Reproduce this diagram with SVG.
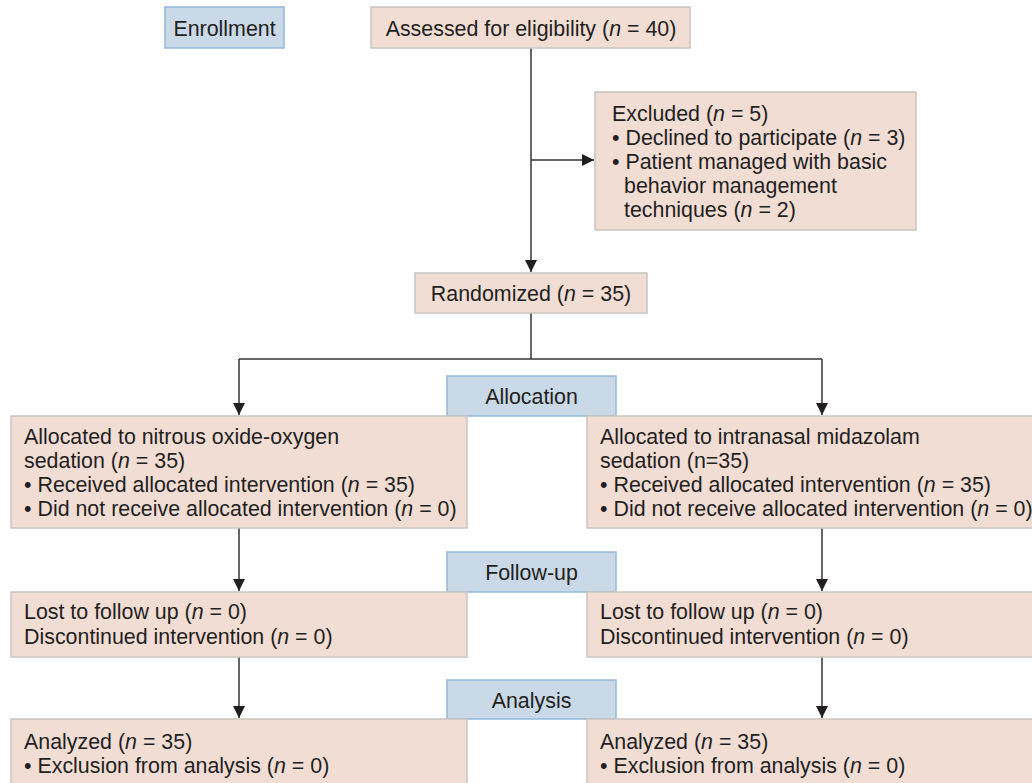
<svg xmlns="http://www.w3.org/2000/svg" width="1032" height="783" viewBox="0 0 1032 783">
<style>
.stage{fill:#c9d9e8;stroke:#93b8da;stroke-width:1.5}
.box{fill:#f2ddd5;stroke:#c9c4c1;stroke-width:1.5}
text{font-family:"Liberation Sans",Arial,sans-serif;font-size:21.4px;fill:#231f20}
.c{text-anchor:middle}
.conn{stroke:#333;stroke-width:1.5;fill:none}
</style>
<defs>
<marker id="ah" viewBox="0 0 12 12" refX="12" refY="6" markerWidth="12" markerHeight="12" markerUnits="userSpaceOnUse" orient="auto">
<path d="M0,0 L12,6 L0,12 Z" fill="#231f20"/>
</marker>
</defs>
<rect width="1032" height="783" fill="#fff"/>
<g id="connectors">
<path class="conn" d="M531,48 V272" marker-end="url(#ah)"/>
<path class="conn" d="M531,160 H594" marker-end="url(#ah)"/>
<path class="conn" d="M531,313 V359"/>
<path class="conn" d="M239,359 H822"/>
<path class="conn" d="M239,359 V415" marker-end="url(#ah)"/>
<path class="conn" d="M822,359 V415" marker-end="url(#ah)"/>
<path class="conn" d="M239,528 V591" marker-end="url(#ah)"/>
<path class="conn" d="M822,528 V591" marker-end="url(#ah)"/>
<path class="conn" d="M239,657 V718" marker-end="url(#ah)"/>
<path class="conn" d="M822,657 V718" marker-end="url(#ah)"/>
</g>
<g id="enrollment">
<rect class="stage" x="165" y="7" width="119" height="41"/>
<text class="c" x="224.5" y="35.5">Enrollment</text>
</g>
<g id="assessed">
<rect class="box" x="371" y="7" width="319" height="41"/>
<text class="c" x="531" y="35.5">Assessed for eligibility (<tspan font-style="italic">n</tspan> = 40)</text>
</g>
<g id="excluded">
<rect class="box" x="595" y="92" width="321" height="138"/>
<text x="612" y="120.5">Excluded (<tspan font-style="italic">n</tspan> = 5)</text>
<text x="612" y="144.5">• Declined to participate (<tspan font-style="italic">n</tspan> = 3)</text>
<text x="612" y="168.5">• Patient managed with basic</text>
<text x="624" y="192.5">behavior management</text>
<text x="624" y="216.5">techniques (<tspan font-style="italic">n</tspan> = 2)</text>
</g>
<g id="randomized">
<rect class="box" x="415" y="273" width="232" height="40"/>
<text class="c" x="531" y="301">Randomized (<tspan font-style="italic">n</tspan> = 35)</text>
</g>
<g id="allocation">
<rect class="stage" x="447" y="376" width="169" height="40"/>
<text class="c" x="531.5" y="404">Allocation</text>
</g>
<g id="alloc-left">
<rect class="box" x="11" y="416" width="456" height="112"/>
<text x="24" y="444">Allocated to nitrous oxide-oxygen</text>
<text x="24" y="468">sedation (<tspan font-style="italic">n</tspan> = 35)</text>
<text x="24" y="492">• Received allocated intervention (<tspan font-style="italic">n</tspan> = 35)</text>
<text x="24" y="516">• Did not receive allocated intervention (<tspan font-style="italic">n</tspan> = 0)</text>
</g>
<g id="alloc-right">
<rect class="box" x="587" y="416" width="460" height="112"/>
<text x="600" y="444">Allocated to intranasal midazolam</text>
<text x="600" y="468">sedation (n=35)</text>
<text x="600" y="492">• Received allocated intervention (<tspan font-style="italic">n</tspan> = 35)</text>
<text x="600" y="516">• Did not receive allocated intervention (<tspan font-style="italic">n</tspan> = 0)</text>
</g>
<g id="followup">
<rect class="stage" x="447" y="552" width="169" height="40"/>
<text class="c" x="531.5" y="580">Follow-up</text>
</g>
<g id="lost-left">
<rect class="box" x="11" y="592" width="456" height="65"/>
<text x="24" y="619">Lost to follow up (<tspan font-style="italic">n</tspan> = 0)</text>
<text x="24" y="644">Discontinued intervention (<tspan font-style="italic">n</tspan> = 0)</text>
</g>
<g id="lost-right">
<rect class="box" x="587" y="592" width="460" height="65"/>
<text x="600" y="619">Lost to follow up (<tspan font-style="italic">n</tspan> = 0)</text>
<text x="600" y="644">Discontinued intervention (<tspan font-style="italic">n</tspan> = 0)</text>
</g>
<g id="analysis">
<rect class="stage" x="447" y="680" width="169" height="39"/>
<text class="c" x="531.5" y="708">Analysis</text>
</g>
<g id="analyzed-left">
<rect class="box" x="11" y="719" width="456" height="80"/>
<text x="24" y="749">Analyzed (<tspan font-style="italic">n</tspan> = 35)</text>
<text x="24" y="773">• Exclusion from analysis (<tspan font-style="italic">n</tspan> = 0)</text>
</g>
<g id="analyzed-right">
<rect class="box" x="587" y="719" width="460" height="80"/>
<text x="600" y="749">Analyzed (<tspan font-style="italic">n</tspan> = 35)</text>
<text x="600" y="773">• Exclusion from analysis (<tspan font-style="italic">n</tspan> = 0)</text>
</g>
</svg>
